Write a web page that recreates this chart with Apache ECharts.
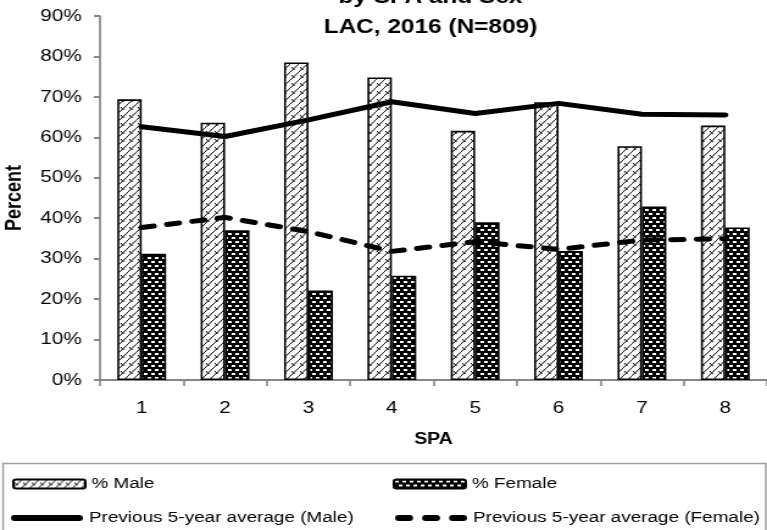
<!DOCTYPE html>
<html>
<head>
<meta charset="utf-8">
<script src="https://cdn.jsdelivr.net/npm/echarts@6/dist/echarts.min.js"></script>
<style>
  html, body { margin: 0; padding: 0; background: #fff; overflow: hidden; }
  /* The chart is laid out on a narrower canvas and widened to 767px,
     which gives the broad letterforms of the printed figure. */
  #chart { width: 629px; height: 530px; transform: scaleX(1.2194); transform-origin: 0 0; }
</style>
</head>
<body>
<div id="chart"></div>
<script>
// SPA regions on the x axis
const categories = ['1', '2', '3', '4', '5', '6', '7', '8'];
// Percent of cases by sex in each SPA, 2016
const malePct = [69.4, 63.6, 78.5, 74.8, 61.6, 68.7, 57.8, 62.9];
const femalePct = [31.2, 37.0, 22.1, 25.8, 39.0, 31.9, 42.9, 37.7];
// Previous 5-year averages
const maleAvg = [62.6, 60.2, 64.3, 68.8, 65.9, 68.4, 65.7, 65.5];
const femaleAvg = [37.7, 40.2, 36.7, 31.8, 34.2, 32.3, 34.6, 34.9];
// Y axis tick range
const yTicks = { min: 0, max: 90, step: 10 };

const FONT = '"Liberation Sans", Arial, sans-serif';

// Zig-zag diagonal hatch on white for male bars
function malePattern() {
  const c = document.createElement('canvas');
  c.width = 7; c.height = 8;
  const g = c.getContext('2d');
  g.fillStyle = '#fff'; g.fillRect(0, 0, 7, 8);
  g.strokeStyle = '#000'; g.lineWidth = 1;
  g.beginPath();
  g.moveTo(-1, 9); g.lineTo(8, -1);
  g.moveTo(1, 3); g.lineTo(3.5, 6);
  g.stroke();
  return c;
}
// Black with staggered white dashes for female bars
function femalePattern() {
  const c = document.createElement('canvas');
  c.width = 6; c.height = 8;
  const g = c.getContext('2d');
  g.fillStyle = '#000'; g.fillRect(0, 0, 6, 8);
  g.fillStyle = '#fff';
  g.fillRect(1, 1, 3, 2);
  g.fillRect(4, 5, 2, 2);
  g.fillRect(0, 5, 1, 2);
  return c;
}

// Legend glyphs for the two average lines
const solidIcon = 'path://M3,0 H57 A3,3 0 0 1 57,6 H3 A3,3 0 0 1 3,0 Z';
const dashIcon = 'path://M3,0 H12 A3,3 0 0 1 12,6 H3 A3,3 0 0 1 3,0 Z ' +
  'M25.5,0 H34.5 A3,3 0 0 1 34.5,6 H25.5 A3,3 0 0 1 25.5,0 Z ' +
  'M48,0 H57 A3,3 0 0 1 57,6 H48 A3,3 0 0 1 48,0 Z';

const chart = echarts.init(document.getElementById('chart'), null, { renderer: 'canvas' });

const legendText = { fontFamily: FONT, fontSize: 15.5, color: '#000' };
const legendBase = {
  itemWidth: 59, itemHeight: 9,
  itemGap: 3,
  textStyle: legendText,
  selectedMode: false
};
const lineLegend = {
  itemWidth: 59, itemHeight: 6,
  itemGap: 3,
  textStyle: legendText,
  selectedMode: false,
  lineStyle: { width: 0 },
  itemStyle: { color: '#000', borderWidth: 0 }
};

chart.setOption({
  animation: false,
  backgroundColor: '#fff',
  title: {
    text: 'by SPA and Sex\nLAC, 2016 (N=809)',
    left: 348, textAlign: 'center',
    top: -23,
    textStyle: { fontFamily: FONT, fontSize: 20, fontWeight: 'bold', color: '#000', lineHeight: 30 }
  },
  grid: { left: 82, right: 0, top: 16, bottom: 150, outerBoundsMode: 'none', containLabel: false },
  legend: [
    Object.assign({ data: ['% Male'], left: 5, top: 471 }, legendBase),
    Object.assign({ data: ['% Female'], left: 317, top: 471 }, legendBase),
    Object.assign({ data: [{ name: 'Previous 5-year average (Male)', icon: solidIcon }], left: 4, top: 505 }, lineLegend),
    Object.assign({ data: [{ name: 'Previous 5-year average (Female)', icon: dashIcon }], left: 319, top: 505 }, lineLegend)
  ],
  graphic: [{
    type: 'rect', left: 0, top: 461,
    shape: { width: 625.5, height: 80 },
    style: { fill: 'none', stroke: '#a0a0a0', lineWidth: 1.5 },
    z: -1
  }],
  xAxis: {
    type: 'category',
    data: categories,
    name: 'SPA',
    nameLocation: 'middle',
    nameGap: 52,
    nameTextStyle: { fontFamily: FONT, fontSize: 16, fontWeight: 'bold', color: '#000' },
    axisLine: { lineStyle: { color: '#868686', width: 2 } },
    axisTick: { show: true, length: 6, lineStyle: { color: '#868686', width: 1.6 } },
    axisLabel: { fontFamily: FONT, fontSize: 17, color: '#000', margin: 20 },
    splitLine: { show: false }
  },
  yAxis: {
    type: 'value',
    min: yTicks.min, max: yTicks.max, interval: yTicks.step,
    name: 'Percent',
    nameLocation: 'middle',
    nameGap: 61,
    nameRotate: 90,
    nameTextStyle: { fontFamily: FONT, fontSize: 18, fontWeight: 'bold', color: '#000' },
    axisLine: { show: true, lineStyle: { color: '#868686', width: 1.7 } },
    axisTick: { show: true, length: 5, lineStyle: { color: '#868686', width: 2 } },
    axisLabel: { fontFamily: FONT, fontSize: 17, color: '#000', margin: 15, formatter: '{value}%' },
    splitLine: { show: false }
  },
  series: [
    {
      name: '% Male', type: 'bar', data: malePct,
      barWidth: 20, barGap: '0%',
      itemStyle: { color: { image: malePattern(), repeat: 'repeat' }, borderColor: '#000', borderWidth: 1.6 }
    },
    {
      name: '% Female', type: 'bar', data: femalePct,
      barWidth: 20, barGap: '0%',
      itemStyle: { color: { image: femalePattern(), repeat: 'repeat' }, borderColor: '#000', borderWidth: 1.6 }
    },
    {
      name: 'Previous 5-year average (Male)', type: 'line', data: maleAvg,
      symbol: 'none', z: 5,
      lineStyle: { color: '#000', width: 5, cap: 'round', join: 'round' },
      itemStyle: { color: '#000' }
    },
    {
      name: 'Previous 5-year average (Female)', type: 'line', data: femaleAvg,
      symbol: 'none', z: 5,
      lineStyle: { color: '#000', width: 5, type: [10, 11], cap: 'round' },
      itemStyle: { color: '#000' }
    }
  ]
});
</script>
</body>
</html>
